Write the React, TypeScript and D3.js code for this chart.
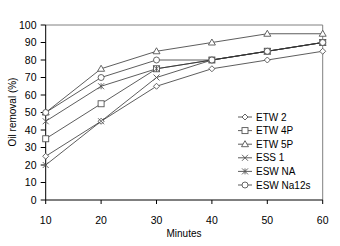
import React from "react";
import * as d3 from "d3";

const minutes = [10, 20, 30, 40, 50, 60];
const seriesNames = ["ETW 2", "ETW 4P", "ETW 5P", "ESS 1", "ESW NA", "ESW Na12s"];
const etw2 = [25, 45, 65, 75, 80, 85];
const etw4p = [35, 55, 75, 80, 85, 90];
const etw5p = [50, 75, 85, 90, 95, 95];
const ess1 = [20, 45, 70, 80, 85, 90];
const eswNA = [45, 65, 75, 80, 85, 90];
const eswNa12s = [50, 70, 80, 80, 85, 90];
const yTicks = [0, 10, 20, 30, 40, 50, 60, 70, 80, 90, 100];
const xTicks = [10, 20, 30, 40, 50, 60];

const allSeries = [etw2, etw4p, etw5p, ess1, eswNA, eswNa12s];
const markerTypes = ["diamond", "square", "triangle", "x", "star", "circle"];

const W = 340;
const H = 246;
const x = d3.scaleLinear().domain([10, 60]).range([45.7, 322.7]);
const y = d3.scaleLinear().domain([0, 100]).range([200, 25]);

const stroke = "#555";
const lineColor = "#333";

function Marker({ type, cx, cy }: { type: string; cx: number; cy: number }) {
  const s = 3;
  const common = { fill: "white", stroke, strokeWidth: 0.9 };
  switch (type) {
    case "diamond":
      return <path d={`M${cx},${cy - s}L${cx + s},${cy}L${cx},${cy + s}L${cx - s},${cy}Z`} {...common} />;
    case "square":
      return <rect x={cx - s} y={cy - s} width={2 * s} height={2 * s} {...common} />;
    case "triangle":
      return <path d={`M${cx},${cy - s - 0.5}L${cx + s + 0.5},${cy + s - 0.5}L${cx - s - 0.5},${cy + s - 0.5}Z`} {...common} />;
    case "x":
      return <path d={`M${cx - s},${cy - s}L${cx + s},${cy + s}M${cx - s},${cy + s}L${cx + s},${cy - s}`} fill="none" stroke={stroke} strokeWidth={0.9} />;
    case "star":
      return <path d={`M${cx - s},${cy - s}L${cx + s},${cy + s}M${cx - s},${cy + s}L${cx + s},${cy - s}M${cx},${cy - s}L${cx},${cy + s}`} fill="none" stroke={stroke} strokeWidth={0.9} />;
    case "circle":
    default:
      return <circle cx={cx} cy={cy} r={s} {...common} />;
  }
}

export default function App() {
  const line = d3
    .line<number>()
    .x((_, i) => x(minutes[i]))
    .y((d) => y(d));
  const font = "'Liberation Sans', Arial, sans-serif";
  const legendX = 238;
  const legendY0 = 117;
  const legendStep = 13.6;
  return (
    <svg width={W} height={H} style={{ position: "absolute", left: 0, top: 0, background: "white" }} fontFamily={font}>
      <rect x={0} y={0} width={W} height={H} fill="white" />
      <path d={`M${x(10)},${y(100)}H${x(60)}V${y(0)}`} fill="none" stroke="#808080" strokeWidth={1} />
      <line x1={x(10)} x2={x(60)} y1={y(0)} y2={y(0)} stroke="#000" strokeWidth={1} />
      <line x1={x(10)} x2={x(10)} y1={y(0)} y2={y(100)} stroke="#000" strokeWidth={1} />
      {yTicks.map((t) => (
        <g key={"y" + t}>
          <line x1={x(10) - 5} x2={x(10)} y1={y(t)} y2={y(t)} stroke="#000" />
          <text x={36.5} y={y(t)} dy="0.35em" textAnchor="end" fontSize={10.5} fill="#000">
            {t}
          </text>
        </g>
      ))}
      {xTicks.map((t) => (
        <g key={"x" + t}>
          <line x1={x(t)} x2={x(t)} y1={y(0)} y2={y(0) + 4} stroke="#000" />
          <text x={x(t)} y={220} dy="0.35em" textAnchor="middle" fontSize={10.5} fill="#000">
            {t}
          </text>
        </g>
      ))}
      <text x={184} y={233} dy="0.35em" textAnchor="middle" fontSize={10} fill="#000">
        Minutes
      </text>
      <text transform={`translate(12,112) rotate(-90)`} dy="0.35em" textAnchor="middle" fontSize={10} fill="#000">
        Oil removal (%)
      </text>
      {allSeries.map((s, si) => (
        <path key={"l" + si} d={line(s) || ""} fill="none" stroke={lineColor} strokeWidth={0.8} />
      ))}
      {allSeries.map((s, si) =>
        s.map((v, i) => <Marker key={`m${si}-${i}`} type={markerTypes[si]} cx={x(minutes[i])} cy={y(v)} />)
      )}
      {seriesNames.map((name, i) => {
        const ly = legendY0 + i * legendStep;
        return (
          <g key={"lg" + i}>
            <line x1={legendX} x2={legendX + 14} y1={ly} y2={ly} stroke={lineColor} strokeWidth={0.8} />
            <Marker type={markerTypes[i]} cx={legendX + 7} cy={ly} />
            <text x={legendX + 18} y={ly} dy="0.35em" fontSize={10} fill="#000">
              {name}
            </text>
          </g>
        );
      })}
    </svg>
  );
}
